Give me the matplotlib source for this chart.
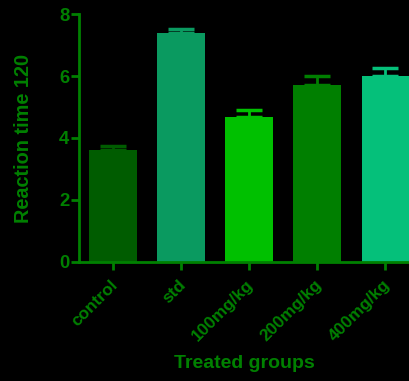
import matplotlib
matplotlib.use("Agg")
import matplotlib.pyplot as plt
import matplotlib.transforms as mtransforms
import numpy as np

categories = ["control", "std", "100mg/kg", "200mg/kg", "400mg/kg"]
means = [3.61, 7.38, 4.69, 5.70, 6.02]
sems = [0.13, 0.16, 0.20, 0.29, 0.24]
colors = ["#005c00", "#0a9a60", "#00c000", "#007f00", "#05c07a"]
yticks = [0, 2, 4, 6, 8]

green = "#008000"
plt.rcParams['font.family'] = ['Liberation Sans', 'DejaVu Sans']
plt.rcParams['font.weight'] = 'bold'

fig = plt.figure(figsize=(4.10, 3.81), dpi=100, facecolor="black")
ax = fig.add_axes([79/410, 1-261.7/381, 1-79/410, (261.7-14.3)/381])
ax.set_facecolor("black")

x = np.arange(len(categories))
ax.bar(x, means, width=0.70, color=colors, zorder=2)
for xi, m, s, c in zip(x, means, sems, colors):
    ax.errorbar(xi, m, yerr=[[0], [s]], fmt="none", ecolor=c, elinewidth=2,
                capsize=9.4, capthick=2.5, zorder=1)

ax.set_xlim(-0.494, 4.36)
ax.set_ylim(0, 8)
ax.set_yticks(yticks)
ax.set_xticks(x)
ax.set_xticklabels(categories, rotation=45, ha="right", va="top",
                   rotation_mode="anchor")

for side in ["top", "right"]:
    ax.spines[side].set_visible(False)
for side in ["left", "bottom"]:
    ax.spines[side].set_color(green)
    ax.spines[side].set_linewidth(2)

ax.tick_params(axis="both", colors=green, width=2, length=6)
ax.tick_params(axis="y", pad=1, labelsize=13.3)
ax.tick_params(axis="x", pad=5, labelsize=12.4)
offset = mtransforms.ScaledTranslation(-3/100, 0, fig.dpi_scale_trans)
for lab in ax.get_xticklabels():
    lab.set_transform(lab.get_transform() + offset)
for lab in ax.get_xticklabels() + ax.get_yticklabels():
    lab.set_color(green)
    lab.set_fontweight("bold")

ax.set_ylabel("Reaction time 120", color=green, fontsize=14.3, fontweight="bold", labelpad=19)
ax.set_xlabel("Treated groups", color=green, fontsize=14, fontweight="bold", labelpad=8)

fig.savefig("out.png", dpi=100, facecolor="black")
